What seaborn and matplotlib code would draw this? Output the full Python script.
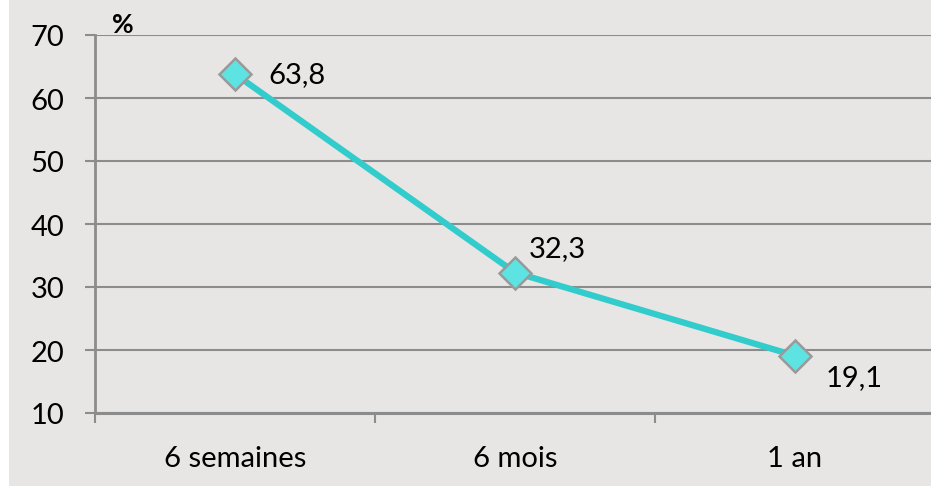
import matplotlib
matplotlib.use("Agg")
import matplotlib.pyplot as plt
import seaborn as sns
import pandas as pd
from matplotlib.patches import Rectangle
from matplotlib.ticker import FixedLocator

categories = ["6 semaines", "6 mois", "1 an"]
values = [63.8, 32.3, 19.1]
value_labels = ["63,8", "32,3", "19,1"]
y_ticks = [10, 20, 30, 40, 50, 60, 70]

sns.set_theme(style="white")
plt.rcParams['font.family'] = ['Lato', 'DejaVu Sans']

BG = "#e8e6e4"
GRID = "#8c8c8c"
FS = 21

fig = plt.figure(figsize=(9.31, 4.89), dpi=100, facecolor="white")
fig.patches.append(Rectangle((9 / 931, 2 / 489), 1, 1, transform=fig.transFigure,
                             facecolor=BG, edgecolor="none", zorder=-10))
ax = fig.add_axes([95 / 931, 75 / 489, 840 / 931, 378 / 489])
ax.set_facecolor(BG)

df = pd.DataFrame({"cat": categories, "val": values})
sns.lineplot(data=df, x="cat", y="val", ax=ax, color="#33cccc", linewidth=4.5,
             marker="D", markersize=16.5, markerfacecolor="#5ee3e3",
             markeredgecolor="#9a9a9a", markeredgewidth=1.8, sort=False, zorder=5)

ax.set_xlim(-0.5, 2.5)
ax.set_ylim(10, 70)
ax.set_yticks(y_ticks)
ax.yaxis.grid(True, color=GRID, linewidth=1.5)
ax.set_axisbelow(True)
ax.set_xlabel("")
ax.set_ylabel("")

for s in ["top", "right"]:
    ax.spines[s].set_visible(False)
ax.spines["left"].set_color(GRID)
ax.spines["left"].set_linewidth(2)
ax.spines["bottom"].set_color(GRID)
ax.spines["bottom"].set_linewidth(2.2)

ax.tick_params(axis="y", which="major", length=7, width=1.5, color=GRID,
               labelsize=FS, pad=15, left=True, labelcolor="black")
ax.tick_params(axis="x", which="major", length=0, labelsize=FS, pad=23,
               labelcolor="black")
ax.xaxis.set_minor_locator(FixedLocator([-0.5, 0.5, 1.5, 2.5]))
ax.tick_params(axis="x", which="minor", length=7, width=1.5, color=GRID, bottom=True)

offsets = [(24, 0, "left", "center"), (10, 8, "left", "bottom"), (22, -6, "left", "top")]
for i, (lab, v) in enumerate(zip(value_labels, values)):
    dx, dy, ha, va = offsets[i]
    ax.annotate(lab, (i, v), xytext=(dx, dy), textcoords="offset points",
                ha=ha, va=va, fontsize=FS, color="black", zorder=6)

ax.text(112 / 931, 1 - 25 / 489, "%", transform=fig.transFigure, fontsize=19,
        fontweight="bold", ha="left", va="center", color="black")

fig.savefig("out.png", dpi=100, facecolor="white")
